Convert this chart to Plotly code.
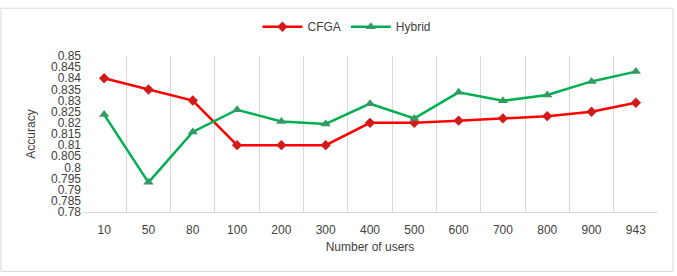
import plotly.graph_objects as go

users = ["10", "50", "80", "100", "200", "300", "400", "500", "600", "700", "800", "900", "943"]
cfga = [0.840, 0.835, 0.830, 0.810, 0.810, 0.810, 0.820, 0.820, 0.821, 0.822, 0.823, 0.825, 0.829]
hybrid = [0.8237, 0.7933, 0.8159, 0.8259, 0.8206, 0.8195, 0.8286, 0.822, 0.8337, 0.8299, 0.8325, 0.8386, 0.843]
yticks = [0.78 + 0.005 * i for i in range(15)]
ytext = ["0.78", "0.785", "0.79", "0.795", "0.8", "0.805", "0.81", "0.815", "0.82", "0.825", "0.83", "0.835", "0.84", "0.845", "0.85"]

W, H = 677, 276
ml, mr, mt, mb = 82, 19, 52, 64
pw, ph = W - ml - mr, H - mt - mb

fig = go.Figure()
fig.add_trace(go.Scatter(x=users, y=cfga, name="CFGA", mode="lines+markers",
                         line=dict(color="#ff0000", width=2.5),
                         marker=dict(symbol="diamond", size=8, color="#d11a1a")))
fig.add_trace(go.Scatter(x=users, y=hybrid, name="Hybrid", mode="lines+markers",
                         line=dict(color="#00b050", width=2.5),
                         marker=dict(symbol="triangle-up", size=9, color="#339966")))

def px2x(p):
    return (p - ml) / pw

def px2y(p):
    return (H - mb - p) / ph

fig.add_shape(type="rect", xref="paper", yref="paper",
              x0=px2x(1), x1=px2x(673), y0=px2y(273), y1=px2y(3),
              line=dict(color="#d9d9d9", width=1), fillcolor="rgba(0,0,0,0)", layer="below")

fig.update_layout(
    width=W, height=H,
    margin=dict(l=ml, r=mr, t=mt, b=mb),
    paper_bgcolor="white", plot_bgcolor="white",
    font=dict(family="Liberation Sans, Arial, sans-serif", size=12, color="#404040"),
    legend=dict(orientation="h", x=0.46, xanchor="center", y=px2y(22), yanchor="middle",
                font=dict(size=12, color="#404040"), itemwidth=40, bgcolor="rgba(0,0,0,0)"),
    showlegend=True,
)
fig.update_xaxes(type="category", tickson="boundaries", showgrid=True, gridcolor="#d9d9d9",
                 gridwidth=1, showline=True, linecolor="#d9d9d9", ticks="",
                 ticklabelstandoff=7,
                 tickfont=dict(size=12, color="#404040"),
                 title=dict(text="Number of users", font=dict(size=12, color="#404040"), standoff=6),
                 zeroline=False, range=[-0.5, 12.5])
fig.update_yaxes(range=[0.78, 0.85], tickvals=yticks, ticktext=ytext, showgrid=False,
                 showline=False, zeroline=False, ticks="",
                 tickfont=dict(size=12, color="#404040"),
                 title=dict(text="Accuracy", font=dict(size=12, color="#404040"), standoff=12))

fig.write_html("out.html")
